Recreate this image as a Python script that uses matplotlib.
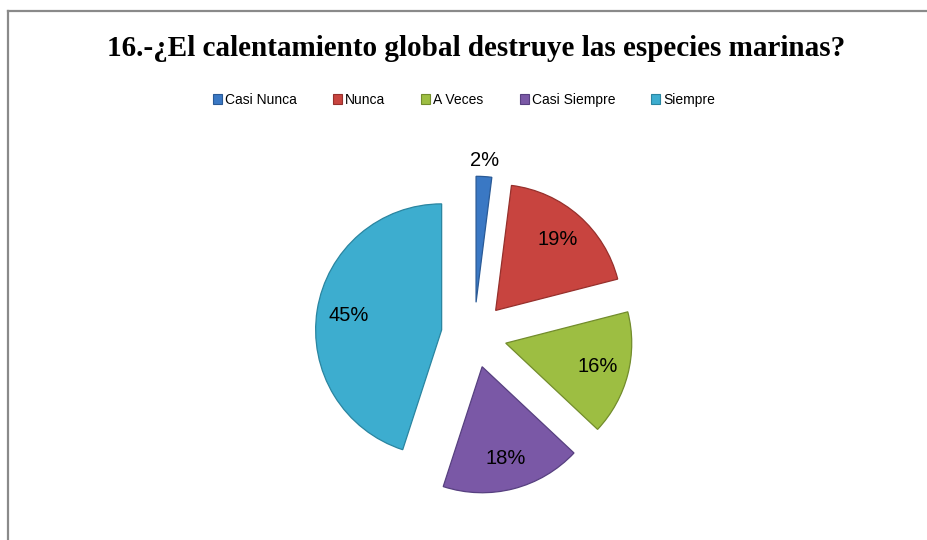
import matplotlib
matplotlib.use("Agg")
import matplotlib.pyplot as plt
from matplotlib.lines import Line2D
import numpy as np

# data
categories = ["Casi Nunca", "Nunca", "A Veces", "Casi Siempre", "Siempre"]
values = [2, 19, 16, 18, 45]
colors = ["#3A78C4", "#C8443F", "#9DBE42", "#7A58A6", "#3DADCF"]
edges = ["#2A5A96", "#96302C", "#728C2C", "#574080", "#2A85A0"]
title = "16.-¿El calentamiento global destruye las especies marinas?"

W, H = 928, 540
fig = plt.figure(figsize=(W / 100, H / 100), dpi=100)

# chart frame (only left and top edges visible in the crop)
fig.add_artist(Line2D([8 / W, 8 / W], [0, 1 - 11 / H], color="#8a8a8a", lw=1.6))
fig.add_artist(Line2D([8 / W, 1], [1 - 11 / H, 1 - 11 / H], color="#8a8a8a", lw=1.6))

# pie axes placed so the centre sits at (474, 335) px with radius 126 px
cx, cy, r_px, half = 474, 335, 126, 200
ax = fig.add_axes([(cx - half) / W, (H - cy - half) / H, 2 * half / W, 2 * half / H])

wedges, texts, autotexts = ax.pie(
    values, colors=colors, startangle=90, counterclock=False,
    explode=[0.26] * len(values), radius=1.0,
    autopct="%1.0f%%", pctdistance=0.75,
    wedgeprops=dict(linewidth=0.9),
    textprops=dict(fontsize=14.5, family="Liberation Sans", color="black"))
for w, ec in zip(wedges, edges):
    w.set_edgecolor(ec)

# the small slice gets its label outside, above the tip
for w, t, v in zip(wedges, autotexts, values):
    if v < 5:
        ang = np.deg2rad((w.theta1 + w.theta2) / 2)
        cxw, cyw = w.center
        t.set_position((cxw + 1.13 * np.cos(ang), cyw + 1.13 * np.sin(ang)))

lim = half / r_px
ax.set_xlim(-lim, lim)
ax.set_ylim(-lim, lim)
ax.set_aspect("equal")
ax.axis("off")

fig.text(476 / W, 1 - 49 / H, title, ha="center", va="center",
         fontsize=21, fontweight="bold", family="Liberation Serif")

handles = [plt.Rectangle((0, 0), 1, 1, facecolor=c, edgecolor=e, lw=0.8)
           for c, e in zip(colors, edges)]
fig.legend(handles, categories, loc="center", bbox_to_anchor=(464 / W, 1 - 100 / H),
           ncol=5, frameon=False, prop=dict(family="Liberation Sans", size=10),
           handlelength=0.65, handleheight=0.65, handletextpad=0.22, columnspacing=2.6)

fig.savefig("out.png", dpi=100, facecolor="white")
